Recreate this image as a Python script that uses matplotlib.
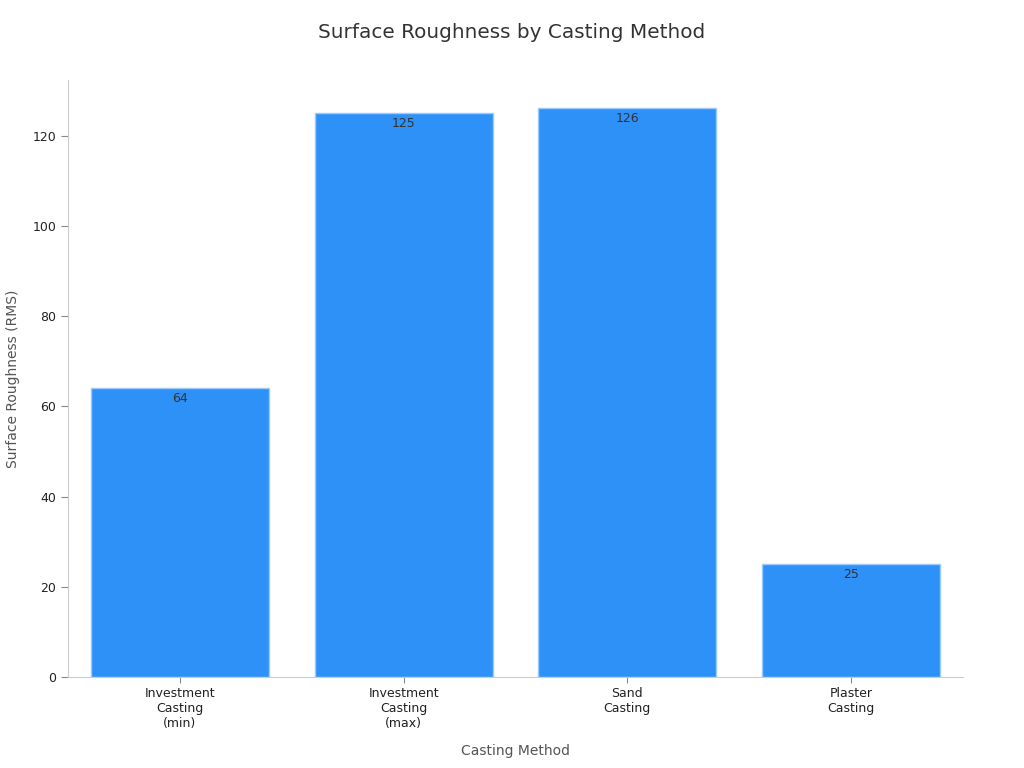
import matplotlib.pyplot as plt

# chart data
methods = ['Investment\nCasting\n(min)', 'Investment\nCasting\n(max)', 'Sand\nCasting', 'Plaster\nCasting']
roughness = [64, 125, 126, 25]

fig = plt.figure(figsize=(10.24, 7.68), dpi=100)
ax = fig.add_axes([0.0664, 0.1185, 0.874, 0.7773])

xs = range(len(methods))
bars = ax.bar(xs, roughness, width=0.795, color='#2E91F7', edgecolor='#9CCBFA', linewidth=1)

# value labels just inside the bar tops
for b, v in zip(bars, roughness):
    ax.text(b.get_x() + b.get_width() / 2, v - 0.8, str(v), ha='center', va='top',
            fontsize=9, color='#333333')

ax.set_xlim(-0.5, 3.5)
ax.set_ylim(0, 132.3)
ax.set_xticks(list(xs))
ax.set_xticklabels(methods, fontsize=9, color='#222222')
ax.set_yticks([0, 20, 40, 60, 80, 100, 120])
ax.tick_params(axis='y', labelsize=9, labelcolor='#222222', color='#888888', length=5)
ax.tick_params(axis='x', color='#888888', length=4)

for s in ['top', 'right']:
    ax.spines[s].set_visible(False)
for s in ['left', 'bottom']:
    ax.spines[s].set_color('#cccccc')

ax.set_xlabel('Casting Method', fontsize=10, color='#555555', labelpad=10)
ax.set_ylabel('Surface Roughness (RMS)', fontsize=10, color='#555555', labelpad=9)
fig.suptitle('Surface Roughness by Casting Method', fontsize=14.4, color='#333333', y=0.97)

fig.savefig('out.png', dpi=100)
